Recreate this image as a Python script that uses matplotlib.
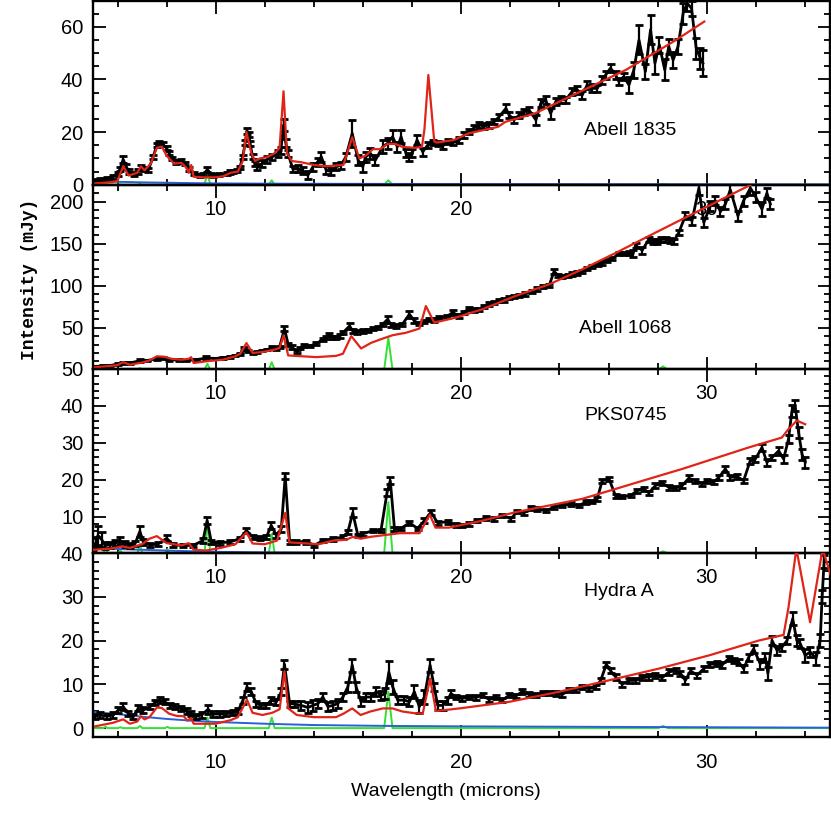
import matplotlib
matplotlib.use("Agg")
import matplotlib.pyplot as plt
from matplotlib.ticker import MultipleLocator, FixedLocator
import numpy as np

plt.rcParams['font.family'] = ['Liberation Sans', 'DejaVu Sans']

# ---------------- Abell 1835 ----------------
wl_a1835 = [5.1, 5.3, 5.55, 5.8, 6.0, 6.1, 6.23, 6.35, 6.45, 6.65, 6.85, 6.95, 7.05, 7.25, 7.45,
            7.6, 7.7, 7.85, 8.0, 8.1, 8.2, 8.4, 8.5, 8.6, 8.75, 8.9, 9.1, 9.35, 9.5, 9.66, 9.8,
            9.9, 10.15, 10.45, 10.6, 10.7, 10.85, 10.98, 11.1, 11.2, 11.27, 11.35, 11.4, 11.5,
            11.6, 11.7, 11.9, 12.1, 12.3, 12.53, 12.65, 12.76, 12.85, 12.94, 13.14, 13.35,
            13.55, 13.75, 13.96, 14.16, 14.3, 14.5, 14.7, 14.9, 15.1, 15.3, 15.56, 15.8, 15.99,
            16.1, 16.3, 16.5, 16.8, 17.0, 17.2, 17.4, 17.55, 17.75, 17.89, 18.0, 18.2, 18.43,
            18.63, 18.83, 19.04, 19.24, 19.44, 19.65, 19.92, 20.12, 20.33, 20.53, 20.73, 20.93,
            21.14, 21.34, 21.54, 21.82, 21.95, 22.15, 22.36, 22.56, 22.76, 23.04, 23.24, 23.44,
            23.64, 23.85, 24.05, 24.25, 24.52, 24.73, 24.93, 25.13, 25.34, 25.54, 25.74, 25.88,
            26.08, 26.29, 26.42, 26.62, 26.83, 27.03, 27.24, 27.5, 27.71, 27.89, 28.07, 28.29,
            28.45, 28.63, 28.83, 29.04, 29.2, 29.38, 29.57, 29.74, 29.84]
flux_a1835 = [1.7, 2.0, 2.3, 3.0, 4.0, 6.0, 9.6, 7.0, 5.0, 4.0, 5.0, 6.5, 6.0, 5.5, 10.6,
              15.0, 15.7, 15.4, 13.8, 12.0, 10.0, 8.7, 8.8, 9.0, 8.0, 6.0, 4.2, 3.6, 3.8, 5.8, 4.0,
              3.6, 3.9, 4.2, 4.8, 5.0, 5.5, 6.5, 10.6, 16.0, 20.5, 19.0, 15.7, 10.6,
              8.0, 6.8, 8.0, 9.6, 10.6, 11.9, 13.0, 22.7, 16.0, 11.9, 6.0, 6.0,
              5.3, 3.6, 6.8, 8.7, 10.6, 5.5, 5.0, 6.8, 7.4, 10.6, 19.5, 9.3, 6.8,
              10.6, 11.9, 9.3, 14.4, 15.7, 18.2, 14.4, 18.2, 11.9, 10.6, 11.9, 17.0, 12.5,
              15.0, 15.9, 15.7, 14.7, 16.3, 15.9, 17.0, 18.9, 20.1, 21.7, 22.7, 22.3,
              22.7, 23.9, 25.8, 29.0, 26.5, 24.6, 26.5, 27.7, 28.4, 24.6, 30.9, 32.2,
              27.1, 31.6, 32.4, 32.2, 35.4, 36.0, 34.1, 37.9, 36.6, 36.6, 39.8, 41.7,
              44.3, 41.7, 39.2, 41.1, 37.9, 43.6, 55.0, 43.0, 58.9, 46.2, 53.1, 43.6,
              52.5, 47.4, 52.5, 65.2, 69.0, 67.0, 51.9, 48.0, 46.2]
err_a1835 = [0.5, 0.5, 0.6, 0.7, 0.8, 0.9, 1.2, 1.0, 0.8, 0.7, 0.8, 0.9, 0.8, 0.8, 0.8,
             0.8, 0.8, 0.8, 0.8, 0.8, 0.7, 0.7, 0.7, 0.7, 0.7, 0.7, 0.6, 0.6, 0.6, 1.0, 0.6,
             0.6, 0.6, 0.6, 0.6, 0.6, 0.6, 0.7, 0.8, 1.0, 1.2, 1.0, 1.0, 1.0,
             1.0, 1.2, 1.2, 1.2, 1.2, 1.3, 1.3, 2.2, 1.5, 1.3, 1.2, 1.3,
             1.3, 1.5, 1.5, 1.5, 1.8, 1.5, 1.3, 1.3, 1.3, 1.5, 5.0, 2.0, 2.0,
             2.0, 2.0, 2.0, 2.5, 2.0, 2.5, 2.0, 2.5, 1.5, 1.5, 1.5, 2.0, 1.5,
             1.2, 1.0, 1.0, 1.0, 1.0, 1.0, 1.0, 1.0, 1.0, 1.0, 1.0, 1.0,
             1.0, 1.0, 1.2, 1.5, 1.2, 1.2, 1.2, 1.2, 1.2, 2.0, 1.5, 1.5,
             2.0, 1.2, 1.2, 1.2, 1.5, 1.5, 1.5, 1.5, 1.5, 1.2, 1.5, 1.5,
             1.5, 1.5, 1.5, 1.5, 3.0, 3.0, 5.5, 3.0, 5.5, 4.0, 3.0, 4.0,
             3.0, 3.0, 3.0, 4.0, 3.0, 3.0, 4.0, 4.0, 5.0]
mwl_a1835 = [5.1, 5.8, 6.0, 6.23, 6.45, 6.8, 6.95, 7.1, 7.35, 7.6, 7.8, 8.0, 8.3, 8.6, 8.8, 8.9,
             9.0, 9.1, 9.5, 10.0, 10.3, 10.6, 10.9, 11.1, 11.25, 11.45, 11.6, 11.8, 12.1, 12.4,
             12.6, 12.76, 12.9, 13.1, 13.5, 14.0, 14.5, 15.2, 15.56, 15.85, 16.1, 16.4, 16.7,
             17.0, 17.3, 17.6, 18.1, 18.4, 18.5, 18.66, 18.9, 19.0, 19.7, 20.3, 21.5, 21.8,
             23.0, 24.7, 26.7, 28.75, 29.9]
model_a1835 = [0.5, 1.0, 1.5, 7.0, 3.5, 4.5, 7.0, 5.5, 8.0, 14.0, 14.5, 11.0, 8.0, 8.3, 6.5, 4.5,
               7.5, 3.0, 2.8, 2.8, 3.2, 4.5, 5.0, 9.0, 20.0, 12.0, 9.0, 10.0, 10.5, 12.0,
               14.0, 35.5, 12.0, 9.0, 8.5, 7.5, 7.0, 7.5, 18.0, 10.0, 11.0, 13.5, 13.5,
               15.5, 15.5, 14.4, 14.0, 14.4, 21.0, 41.7, 16.5, 16.0, 17.0, 19.5, 22.0, 23.9,
               27.1, 34.7, 43.6, 55.0, 62.0]

# ---------------- Abell 1068 ----------------
wl_a1068 = [5.08, 5.4, 5.7, 6.0, 6.24, 6.5, 6.9, 7.2, 7.6, 7.85, 8.1, 8.5, 8.8, 9.2, 9.6, 10.0,
            10.3, 10.6, 10.8, 11.0, 11.15, 11.3, 11.5, 11.7, 11.9, 12.1, 12.3, 12.45, 12.6, 12.8,
            12.95, 13.1, 13.3, 13.45, 13.6, 13.82, 14.1, 14.36, 14.5, 14.63, 14.77, 14.9, 15.05,
            15.18, 15.45, 15.58, 15.75, 15.99, 16.2, 16.4, 16.6, 16.8, 17.0, 17.15, 17.35, 17.6,
            17.89, 18.09, 18.29, 18.5, 18.7, 18.9, 19.1, 19.4, 19.65, 19.92, 20.1, 20.33, 20.53,
            20.73, 20.93, 21.14, 21.35, 21.55, 21.75, 21.95, 22.15, 22.36, 22.6, 22.9, 23.1,
            23.31, 23.58, 23.78, 23.95, 24.12, 24.33, 24.53, 24.73, 24.93, 25.14, 25.34, 25.55,
            25.75, 25.95, 26.15, 26.42, 26.62, 26.83, 27.0, 27.1, 27.37, 27.64, 27.81, 27.98,
            28.15, 28.32, 28.5, 28.66, 28.86, 29.13, 29.4, 29.68, 29.88, 30.15, 30.35, 30.56,
            30.76, 30.96, 31.27, 31.5, 31.78, 32.0, 32.25, 32.45, 32.59]
flux_a1068 = [3.9, 4.5, 5.1, 6.5, 8.3, 8.0, 10.7, 11.0, 13.0, 14.0, 11.9, 11.5, 11.0, 12.0, 13.8, 13.5,
              14.3, 15.5, 17.0, 19.0, 25.0, 22.0, 19.8, 21.0, 23.0, 24.0, 26.2, 25.5, 27.0, 48.8,
              30.0, 27.0, 22.0, 26.0, 29.0, 28.0, 31.0, 36.0, 38.0, 42.0, 38.0, 38.0, 40.0,
              44.0, 52.0, 46.0, 45.0, 46.0, 47.0, 49.0, 50.0, 54.0, 60.0, 53.0, 52.0, 54.0,
              66.0, 58.0, 55.0, 57.0, 60.0, 59.0, 62.0, 63.0, 68.0, 64.0, 68.0, 73.0, 71.0,
              72.0, 75.0, 78.0, 80.0, 82.0, 83.0, 86.0, 87.0, 88.0, 90.0, 93.0, 96.0,
              99.0, 100.0, 117.0, 112.0, 111.0, 112.0, 114.0, 115.0, 117.0, 120.0, 123.0, 125.0,
              127.0, 130.0, 132.0, 138.0, 138.0, 139.0, 138.0, 148.0, 142.0, 155.0, 152.0, 152.0,
              155.0, 155.0, 154.0, 153.0, 163.0, 183.0, 177.0, 216.0, 175.0, 195.0, 201.0, 188.0,
              197.0, 214.0, 183.0, 201.0, 216.0, 205.0, 191.0, 210.0, 197.0]
err_a1068 = [1, 1, 1, 1, 1, 1, 1.5, 1, 1, 1, 1, 1, 1, 1, 2.5, 1,
             1, 1, 1, 1, 1.5, 1, 1, 1, 1, 1, 1.5, 1.5, 1.5, 3,
             2, 2, 2, 1.5, 1.5, 1.5, 1.5, 2, 2, 2, 2, 2, 2,
             2, 4, 2, 2, 2, 2, 2, 2, 2, 4, 2, 2, 2,
             4, 3, 2, 2, 2, 2, 2, 2, 3, 2, 2, 2, 2,
             2, 2, 2, 2, 2, 2, 2, 2, 2, 2, 2, 2,
             2, 2, 3, 2, 2, 2, 2, 2, 2, 2, 2, 2,
             2, 2, 2, 2, 2, 2, 4, 3, 4, 3, 3, 3,
             3, 3, 3, 3, 3, 4, 5, 8, 5, 6, 5, 5,
             6, 8, 6, 6, 8, 6, 8, 6, 6]
mwl_a1068 = [5.08, 5.7, 6.0, 6.22, 6.5, 7.0, 7.3, 7.6, 7.9, 8.2, 8.6, 8.9, 9.0, 9.1, 9.6, 10.3,
             10.8, 11.0, 11.25, 11.5, 11.9, 12.4, 12.6, 12.76, 12.95, 13.4, 14.1, 14.9, 15.18,
             15.52, 15.92, 16.33, 16.7, 17.2, 17.75, 18.3, 18.56, 18.9, 19.78, 20.87, 22.2,
             23.58, 24.93, 26.3, 27.64, 29.0, 30.35, 31.84]
model_a1068 = [3.0, 4.5, 5.5, 9.0, 6.0, 8.5, 11.0, 16.0, 15.5, 13.0, 12.0, 13.0, 15.0, 8.0, 10.0, 12.0,
               16.0, 19.0, 31.7, 20.0, 21.0, 24.0, 26.0, 40.8, 17.0, 16.2, 15.0, 16.5, 19.0,
               40.0, 25.3, 32.0, 36.0, 41.0, 44.0, 49.0, 75.7, 56.0, 62.0, 72.0, 87.6,
               101.5, 119.4, 139.0, 159.0, 179.0, 198.8, 220.6]

# ---------------- PKS0745 ----------------
wl_pks = [5.01, 5.12, 5.2, 5.35, 5.49, 5.69, 5.9, 6.1, 6.3, 6.5, 6.71, 6.91, 7.05, 7.32, 7.66, 8.0,
          8.27, 8.67, 9.08, 9.48, 9.65, 9.82, 10.16, 10.57, 10.98, 11.25, 11.52, 11.79, 12.06,
          12.26, 12.47, 12.67, 12.83, 13.01, 13.28, 13.69, 14.02, 14.36, 14.77, 15.18, 15.38,
          15.58, 15.79, 15.99, 16.4, 16.73, 16.98, 17.11, 17.28, 17.55, 17.89, 18.22, 18.5,
          18.77, 19.04, 19.44, 19.78, 20.05, 20.3, 20.66, 21.0, 21.34, 21.68, 22.02, 22.29,
          22.56, 22.83, 23.1, 23.44, 23.78, 24.12, 24.46, 24.8, 25.07, 25.34, 25.54, 25.74,
          26.02, 26.29, 26.56, 26.9, 27.17, 27.44, 27.64, 27.91, 28.18, 28.46, 28.73, 29.0,
          29.27, 29.54, 29.81, 30.0, 30.28, 30.49, 30.76, 30.96, 31.23, 31.5, 31.77, 31.98,
          32.25, 32.45, 32.66, 32.93, 33.13, 33.33, 33.47, 33.6, 33.74, 33.88, 34.01]
flux_pks = [1.4, 3.0, 4.9, 3.8, 2.2, 2.3, 2.8, 3.5, 2.6, 2.2, 2.6, 6.0, 3.1, 2.3, 2.6, 4.1,
            2.3, 2.2, 2.2, 3.5, 8.9, 3.1, 2.9, 3.1, 4.0, 6.2, 4.4, 4.1, 4.4,
            7.6, 4.9, 6.7, 21.0, 3.1, 3.2, 3.2, 2.2, 3.5, 4.0, 4.4, 5.8,
            11.0, 4.9, 5.3, 6.2, 6.2, 16.6, 19.7, 6.7, 6.8, 8.3, 6.8, 8.9,
            11.2, 8.3, 8.6, 7.7, 7.6, 8.0, 8.9, 9.6, 9.4, 10.3, 9.4, 11.4,
            11.0, 12.3, 12.1, 11.6, 12.5, 13.0, 13.4, 13.0, 13.9, 14.1, 14.8, 19.7,
            20.2, 15.5, 15.4, 15.7, 17.0, 17.5, 16.4, 18.4, 19.1, 17.9, 17.7, 18.4,
            20.4, 19.7, 18.8, 19.7, 19.3, 20.6, 22.9, 20.6, 20.9, 19.7, 25.1, 25.6,
            28.7, 24.7, 26.0, 27.8, 25.6, 31.0, 38.6, 40.0, 32.8, 26.9, 24.7]
err_pks = [0.5, 1.5, 2.5, 2.0, 1.0, 0.8, 0.8, 1.0, 0.8, 0.7, 0.7, 1.5, 0.8, 0.6, 0.6, 0.8,
           0.5, 0.5, 0.5, 0.6, 1.0, 0.5, 0.5, 0.5, 0.5, 0.6, 0.5, 0.5, 0.5,
           1.0, 0.6, 0.8, 0.8, 0.5, 0.5, 0.5, 0.5, 0.5, 0.5, 0.5, 0.6,
           1.2, 0.5, 0.5, 0.5, 0.5, 1.0, 1.0, 0.6, 0.5, 0.5, 0.5, 0.6,
           0.7, 0.5, 0.5, 0.5, 0.5, 0.5, 0.5, 0.5, 0.5, 0.5, 0.5, 0.5,
           0.5, 0.5, 0.5, 0.5, 0.5, 0.5, 0.5, 0.5, 0.5, 0.5, 0.5, 0.6,
           0.6, 0.5, 0.5, 0.5, 0.6, 0.6, 0.6, 0.6, 0.6, 0.6, 0.6, 0.6,
           0.8, 0.6, 0.6, 0.6, 0.6, 0.6, 0.8, 0.6, 0.6, 0.6, 0.8, 0.8,
           1.0, 1.0, 0.8, 1.0, 1.0, 1.2, 1.5, 1.5, 1.5, 1.5, 1.5]
mwl_pks = [5.01, 5.7, 6.2, 6.5, 7.0, 7.3, 7.6, 8.0, 8.6, 8.9, 9.1, 9.6, 10.2, 10.8, 11.25, 11.5,
           12.0, 12.5, 12.83, 13.0, 13.5, 14.2, 14.8, 15.3, 15.58, 15.9, 16.3, 16.9, 17.5, 18.3,
           18.72, 18.95, 19.5, 20.87, 22.22, 23.58, 24.93, 26.29, 27.64, 29.0, 30.35, 31.7,
           33.06, 33.33, 33.67, 34.01]
model_pks = [1.0, 1.3, 1.9, 1.5, 2.5, 4.0, 4.7, 2.8, 2.2, 2.8, 1.0, 0.8, 1.5, 2.5, 5.7, 2.7,
             2.5, 3.5, 11.0, 3.0, 2.8, 2.5, 3.5, 3.7, 4.5, 4.0, 4.5, 5.0, 5.5, 5.5,
             10.5, 7.0, 7.0, 8.9, 11.2, 13.0, 14.8, 17.5, 20.2, 22.9, 25.8, 28.7,
             31.4, 33.7, 36.0, 35.0]

# ---------------- Hydra A ----------------
wl_hyd = [5.08, 5.28, 5.56, 5.83, 6.03, 6.23, 6.44, 6.64, 6.84, 7.05, 7.32, 7.52, 7.72, 7.93, 8.13,
          8.33, 8.6, 8.81, 9.01, 9.21, 9.42, 9.69, 9.89, 10.16, 10.43, 10.7, 10.91, 11.11, 11.27,
          11.45, 11.65, 11.86, 12.06, 12.26, 12.47, 12.67, 12.8, 13.01, 13.21, 13.48, 13.75,
          13.96, 14.16, 14.36, 14.57, 14.77, 14.97, 15.18, 15.38, 15.56, 15.72, 15.92, 16.12,
          16.33, 16.53, 16.74, 16.91, 17.05, 17.21, 17.41, 17.68, 17.89, 18.09, 18.29, 18.5,
          18.73, 18.9, 19.04, 19.24, 19.44, 19.58, 19.78, 20.05, 20.33, 20.6, 20.87, 21.14,
          21.41, 21.68, 21.95, 22.22, 22.49, 22.76, 23.03, 23.31, 23.58, 23.85, 24.12, 24.39,
          24.66, 24.93, 25.2, 25.47, 25.68, 25.91, 26.08, 26.29, 26.56, 26.83, 27.1, 27.37,
          27.64, 27.91, 28.18, 28.45, 28.73, 28.93, 29.13, 29.34, 29.61, 29.88, 30.15, 30.42,
          30.62, 30.89, 31.1, 31.3, 31.5, 31.71, 31.91, 32.18, 32.39, 32.49, 32.66, 32.86,
          33.06, 33.27, 33.5, 33.67, 33.81, 34.01, 34.21, 34.45, 34.62, 34.7, 34.78, 34.86]
flux_hyd = [2.7, 3.0, 2.7, 3.0, 4.1, 4.9, 3.3, 2.6, 4.5, 4.1, 4.9, 5.8, 6.4, 6.0, 5.2,
            4.9, 4.5, 3.9, 3.3, 2.7, 3.0, 4.3, 3.2, 3.2, 3.3, 3.5, 3.9, 6.4, 9.4,
            8.3, 5.6, 5.2, 5.2, 6.4, 6.0, 8.3, 14.6, 5.6, 5.5, 5.2, 4.7,
            5.2, 5.6, 7.1, 4.9, 5.2, 5.6, 7.1, 9.4, 14.4, 9.4, 6.0, 7.1,
            7.1, 8.3, 7.5, 7.9, 12.8, 9.4, 6.4, 6.4, 6.0, 8.3, 4.9, 7.1,
            14.4, 9.4, 5.2, 5.2, 6.4, 7.9, 7.1, 6.8, 7.1, 7.0, 7.5, 6.5,
            7.1, 6.4, 7.5, 7.3, 8.4, 7.7, 7.5, 8.0, 8.0, 7.9, 7.7, 8.7,
            8.7, 9.4, 9.0, 9.4, 10.9, 14.6, 13.1, 11.7, 10.0, 10.9, 10.9, 11.5,
            11.7, 12.1, 11.5, 12.8, 13.2, 12.5, 10.9, 13.1, 12.1, 13.6, 14.6, 14.7,
            14.4, 15.9, 15.5, 15.1, 13.6, 16.2, 18.1, 14.7, 16.1, 12.5, 20.0, 17.8,
            18.5, 20.0, 25.0, 20.0, 19.3, 16.6, 17.4, 15.9, 20.0, 30.0, 38.0, 46.0]
err_hyd = [0.6, 0.6, 0.6, 0.6, 0.7, 0.8, 0.6, 0.6, 0.7, 0.7, 0.6, 0.6, 0.6, 0.6, 0.6,
           0.6, 0.6, 0.6, 0.6, 0.6, 0.6, 1.0, 0.6, 0.6, 0.6, 0.6, 0.6, 0.8, 1.0,
           0.8, 0.7, 0.6, 0.6, 0.8, 0.7, 0.8, 1.0, 0.7, 0.7, 1.0, 1.2,
           1.2, 1.0, 1.0, 1.0, 1.0, 1.0, 1.0, 1.2, 1.5, 1.2, 1.0, 1.0,
           1.0, 1.0, 1.0, 1.2, 2.5, 1.5, 1.0, 1.0, 1.0, 1.5, 1.5, 1.5,
           1.5, 1.0, 1.0, 1.0, 0.8, 0.8, 0.5, 0.5, 0.5, 0.5, 0.5, 0.5,
           0.5, 0.5, 0.5, 0.5, 0.5, 0.5, 0.5, 0.5, 0.5, 0.5, 0.5, 0.5,
           0.5, 0.5, 0.5, 0.5, 0.6, 0.6, 0.6, 0.6, 0.6, 0.6, 0.6, 0.6,
           0.6, 0.6, 0.6, 0.6, 0.6, 0.6, 0.8, 0.6, 0.6, 0.6, 0.6, 0.6,
           0.6, 0.6, 0.6, 0.6, 0.8, 0.8, 1.0, 1.2, 1.0, 1.5, 1.0, 1.0,
           0.8, 0.8, 1.5, 1.2, 1.0, 1.5, 1.2, 1.5, 1.5, 1.5, 1.5, 1.5]
mwl_hyd = [5.08, 5.8, 6.23, 6.5, 6.8, 6.95, 7.1, 7.3, 7.6, 7.8, 8.1, 8.4, 8.7, 8.85, 9.0, 9.1,
           10.0, 10.6, 10.9, 11.27, 11.5, 11.9, 12.3, 12.6, 12.8, 12.95, 13.3, 14.0, 14.9,
           15.2, 15.56, 15.9, 16.3, 16.8, 17.2, 17.6, 18.1, 18.43, 18.73, 18.97, 19.92, 21.95,
           23.98, 26.0, 28.05, 30.08, 32.11, 33.13, 33.33, 33.65, 34.21, 34.72, 35.1]
model_hyd = [0.4, 1.2, 2.0, 1.0, 1.5, 2.7, 2.0, 2.5, 4.7, 4.6, 3.3, 2.8, 2.7, 1.7, 2.3, 1.0,
             1.0, 1.8, 2.5, 6.5, 3.5, 3.0, 3.5, 4.3, 13.0, 4.5, 3.0, 2.5, 2.5,
             3.3, 4.5, 3.0, 3.8, 4.5, 4.5, 3.8, 3.4, 3.3, 11.3, 3.9, 4.5, 6.0,
             8.3, 10.9, 13.6, 16.6, 20.0, 21.3, 27.6, 41.0, 24.2, 41.0, 34.0]

# ---------------- continuum (blue) ----------------
cwl = [5.0, 6.0, 7.0, 8.0, 9.0, 10.0, 12.0, 14.0, 17.0, 20.0, 25.0, 30.0, 35.0]
cont_a1835 = [1.3, 1.1, 0.9, 0.75, 0.6, 0.5, 0.4, 0.35, 0.3, 0.25, 0.2, 0.15, 0.1]
cont_a1068 = [1.0, 0.8, 0.7, 0.6, 0.5, 0.4, 0.3, 0.3, 0.2, 0.2, 0.1, 0.1, 0.1]
cont_pks = [1.5, 1.2, 1.0, 0.8, 0.6, 0.45, 0.3, 0.25, 0.2, 0.15, 0.1, 0.1, 0.05]
cont_hyd = [3.7, 3.2, 2.6, 2.1, 1.7, 1.4, 1.0, 0.7, 0.5, 0.4, 0.3, 0.2, 0.1]

# ---------------- H2 lines (green) ----------------
h2_wl = [5.51, 6.11, 6.91, 8.03, 9.66, 12.28, 17.03, 28.22]
h2_hw = [0.1, 0.1, 0.1, 0.1, 0.12, 0.12, 0.17, 0.2]
h2_a1835 = [0.2, 0.1, 0.3, 0.2, 4.3, 1.7, 1.7, 0.3]
h2_a1068 = [0.5, 0.5, 2.0, 1.0, 7.0, 9.0, 38.0, 4.0]
h2_pks = [1.3, 0.8, 2.6, 1.2, 8.3, 5.3, 13.9, 0.6]
h2_hyd = [0.3, 0.2, 0.5, 0.3, 2.4, 2.4, 8.3, 0.5]

names = ['Abell 1835', 'Abell 1068', 'PKS0745', 'Hydra A']
ylims = [(0, 70), (1, 220), (0.1, 50), (-2.1, 40)]
yticks = [[0, 20, 40, 60], [50, 100, 150, 200], [10, 20, 30, 40, 50], [0, 10, 20, 30, 40]]
yminor = [5, 10, 2, 2]
name_pos = [(0.667, 0.293), (0.660, 0.222), (0.667, 0.748), (0.667, 0.7925)]

spectra = [(wl_a1835, flux_a1835, err_a1835, mwl_a1835, model_a1835, cont_a1835, h2_a1835),
           (wl_a1068, flux_a1068, err_a1068, mwl_a1068, model_a1068, cont_a1068, h2_a1068),
           (wl_pks, flux_pks, err_pks, mwl_pks, model_pks, cont_pks, h2_pks),
           (wl_hyd, flux_hyd, err_hyd, mwl_hyd, model_hyd, cont_hyd, h2_hyd)]

fig = plt.figure(figsize=(8.31, 8.31), dpi=100)
fig.patch.set_facecolor('white')

left, right = 93 / 831, 829.5 / 831
top_px, h_px = 0.5, 184.2

for i, (wl, fl, er, mwl, mod, cont, h2) in enumerate(spectra):
    y0 = 1 - (top_px + (i + 1) * h_px) / 831
    ax = fig.add_axes([left, y0, right - left, h_px / 831])
    ax.patch.set_alpha(0)

    # green H2 line profiles
    gx, gy = [5.0], [0.0]
    for c, w, p in zip(h2_wl, h2_hw, h2):
        gx += [c - w, c, c + w]
        gy += [0.0, p, 0.0]
    gx.append(35.0)
    gy.append(0.0)
    ax.plot(gx, gy, color='#33e033', lw=1.4, zorder=2)
    ax.plot(cwl, cont, color='#2b5fd9', lw=1.4, zorder=2)
    ax.errorbar(wl, fl, yerr=er, color='black', lw=2.0, elinewidth=1.6,
                capsize=3.0, capthick=2.0, zorder=3)
    ax.plot(mwl, mod, color='#e02418', lw=1.6, zorder=4)

    ax.set_xlim(5, 35)
    ax.set_ylim(*ylims[i])
    ax.xaxis.set_major_locator(FixedLocator([10, 20, 30]))
    ax.xaxis.set_minor_locator(MultipleLocator(2))
    ax.yaxis.set_major_locator(FixedLocator(yticks[i]))
    ax.yaxis.set_minor_locator(MultipleLocator(yminor[i]))
    ax.tick_params(which='both', direction='in', top=True, right=True, width=1.3,
                   labelsize=14.5, colors='black')
    ax.tick_params(which='major', length=9)
    ax.tick_params(which='minor', length=4.5)
    ax.tick_params(axis='x', pad=11)
    ax.tick_params(axis='y', pad=7)
    for s in ax.spines.values():
        s.set_linewidth(1.7)
    ax.text(name_pos[i][0], name_pos[i][1], names[i], transform=ax.transAxes,
            fontsize=14, ha='left', va='center')

fig.text(445.5 / 831, 1 - 792 / 831, 'Wavelength (microns)', fontsize=14,
         ha='center', va='center')
fig.text(30 / 831, 1 - 279 / 831, 'Intensity (mJy)', fontsize=13, rotation=90,
         ha='center', va='center', family=['Liberation Mono', 'DejaVu Sans Mono'],
         weight='bold')

fig.savefig('out.png', dpi=100)
